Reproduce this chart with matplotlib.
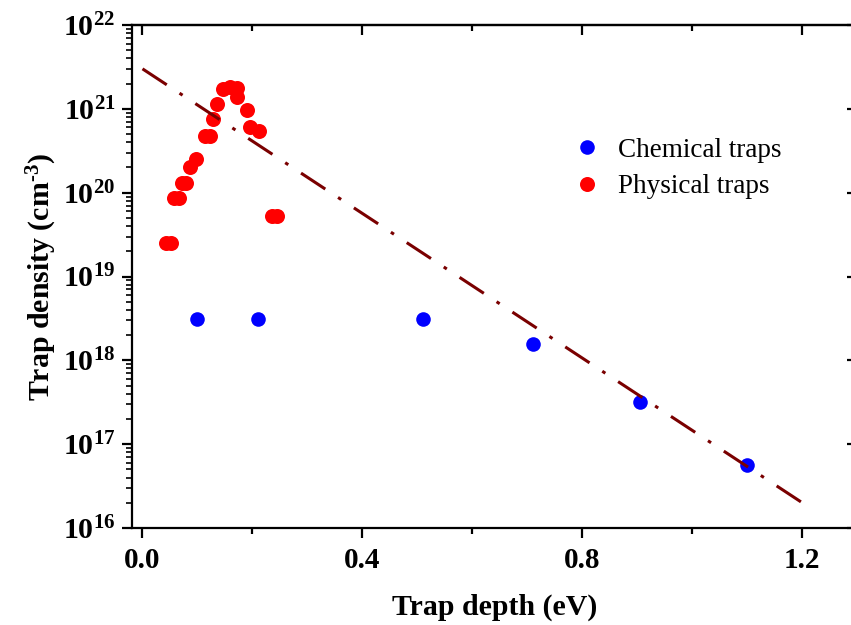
import numpy as np
import matplotlib
matplotlib.use("Agg")
import matplotlib.pyplot as plt
from matplotlib.ticker import FixedLocator, LogLocator, FuncFormatter, NullFormatter

# chemical traps (blue)
chem_x = [0.10, 0.21, 0.51, 0.71, 0.905, 1.10]
chem_y = [3.1e18, 3.1e18, 3.1e18, 1.55e18, 3.2e17, 5.7e16]

# physical traps (red)
phys_x = [0.043, 0.052, 0.058, 0.067, 0.072, 0.079, 0.087, 0.097, 0.113, 0.122,
          0.128, 0.136, 0.147, 0.159, 0.172, 0.172, 0.190, 0.196, 0.211, 0.235, 0.245]
phys_y = [2.5e19, 2.5e19, 8.7e19, 8.7e19, 1.31e20, 1.31e20, 2.0e20, 2.5e20, 4.7e20, 4.7e20,
          7.5e20, 1.14e21, 1.72e21, 1.84e21, 1.76e21, 1.37e21, 9.7e20, 6.1e20, 5.4e20, 5.2e19, 5.2e19]

# fitted line
fit_x = [0.0, 1.2]
fit_y = [3.0e21, 2.0e16]

plt.rcParams['font.family'] = 'Liberation Serif'
plt.rcParams['mathtext.fontset'] = 'custom'
plt.rcParams['mathtext.rm'] = 'Liberation Serif:bold'
plt.rcParams['mathtext.bf'] = 'Liberation Serif:bold'
plt.rcParams['mathtext.it'] = 'Liberation Serif:bold:italic'

fig = plt.figure(figsize=(8.51, 6.25), dpi=100)
ax = fig.add_axes([131.5 / 851, 1 - 528 / 625, (857.3 - 131.5) / 851, (528 - 25) / 625])

ax.plot(fit_x, fit_y, color='#7a0000', lw=2.2, linestyle=(0, (9.5, 5, 1.2, 5)), zorder=3)
ax.plot(chem_x, chem_y, 'o', color='#0000ff', ms=10.5, mec='none', label='Chemical traps', zorder=2)
ax.plot(phys_x, phys_y, 'o', color='#ff0000', ms=10.8, mec='none', label='Physical traps', zorder=2)

ax.set_yscale('log')
ax.set_xlim(-0.02, 1.30)
ax.set_ylim(1e16, 1e22)

ax.xaxis.set_major_locator(FixedLocator([0.0, 0.4, 0.8, 1.2]))
ax.xaxis.set_minor_locator(FixedLocator([0.2, 0.6, 1.0]))
ax.xaxis.set_major_formatter(FuncFormatter(lambda v, p: f'{v:.1f}'))
ax.yaxis.set_major_locator(LogLocator(base=10, numticks=20))
ax.yaxis.set_minor_locator(LogLocator(base=10, subs=np.arange(2, 10), numticks=20))
ax.yaxis.set_minor_formatter(NullFormatter())
ax.yaxis.set_major_formatter(FuncFormatter(lambda v, p: r'$\mathbf{10^{%d}}$' % round(np.log10(v))))

for s in ax.spines.values():
    s.set_linewidth(1.6)

ax.tick_params(axis='x', which='both', direction='out', top=False, width=1.6, labelsize=21, pad=6)
ax.tick_params(axis='x', which='major', length=7.5)
ax.tick_params(axis='x', which='minor', length=4)
ax.tick_params(axis='y', which='both', direction='out', right=False, width=1.6, labelsize=21.5, pad=4)
ax.tick_params(axis='y', which='major', length=7.5)
ax.tick_params(axis='y', which='minor', length=4, width=1.2)

# mirrored ticks pointing inward on top and right
top = ax.secondary_xaxis('top')
top.xaxis.set_major_locator(FixedLocator([0.0, 0.4, 0.8, 1.2]))
top.xaxis.set_minor_locator(FixedLocator([0.2, 0.6, 1.0]))
top.tick_params(which='both', direction='in', labeltop=False, width=1.6)
top.tick_params(which='major', length=7.5)
top.tick_params(which='minor', length=4)
top.spines['top'].set_linewidth(1.6)
right = ax.secondary_yaxis('right')
right.yaxis.set_major_locator(LogLocator(base=10, numticks=20))
right.yaxis.set_minor_locator(FixedLocator([]))
right.tick_params(which='both', direction='in', labelright=False, width=1.6, length=7.5)

for lab in ax.get_xticklabels():
    lab.set_fontweight('bold')

ax.set_xlabel('Trap depth (eV)', fontsize=21.5, fontweight='bold', labelpad=14)
ax.set_ylabel(r'Trap density (cm$^{\text{-}3}$)', fontsize=21.5, fontweight='bold', labelpad=3)

ax.legend(loc='upper left', bbox_to_anchor=(0.586, 0.803), frameon=False, fontsize=19.5,
          handletextpad=0.55, labelspacing=0.42, borderpad=0, handlelength=1.2)

fig.savefig('out.png', dpi=100)
